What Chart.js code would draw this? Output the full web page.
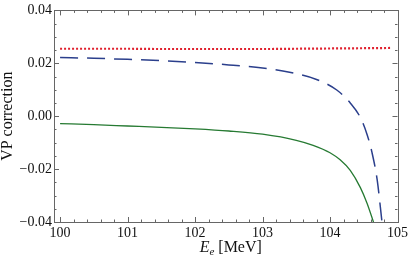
<!DOCTYPE html>
<html><head><meta charset="utf-8">
<script src="https://cdn.jsdelivr.net/npm/chart.js@4.4.0/dist/chart.umd.min.js"></script>
<style>html,body{margin:0;padding:0;background:#fff;}#wrap{width:411px;height:256px;}</style>
</head><body><div id="wrap"><canvas id="c" width="411" height="256"></canvas></div>
<script>
const xTicks = [100, 101, 102, 103, 104, 105];
const yTicks = [-0.04, -0.02, 0.00, 0.02, 0.04];
const xTitleMain = 'E';
const xTitleSub = 'e';
const xTitleUnit = ' [MeV]';
const yTitle = 'VP correction';

const redE   = [100, 100.5, 101, 101.5, 102, 102.5, 103, 103.5, 104, 104.5, 104.9];
const redV   = [0.0255, 0.0255, 0.0255, 0.0254, 0.0254, 0.0254, 0.0254, 0.0255, 0.0256, 0.0257, 0.0258];

const blueE  = [100, 100.5, 101, 101.5, 102, 102.5, 103, 103.4, 103.8, 104.1, 104.3, 104.45, 104.55, 104.62, 104.7, 104.77];
const blueV  = [0.0222, 0.0219, 0.0215, 0.0210, 0.0203, 0.0194, 0.0182, 0.0166, 0.0139, 0.0099, 0.0050, -0.0005, -0.0070, -0.0135, -0.0243, -0.0400];

const greenE = [100, 100.5, 101, 101.5, 102, 102.5, 103, 103.5, 103.75, 104, 104.15, 104.3, 104.45, 104.55, 104.65];
const greenV = [-0.0028, -0.0032, -0.0037, -0.0042, -0.0048, -0.0056, -0.0068, -0.0091, -0.0110, -0.0138, -0.0165, -0.0205, -0.0270, -0.0330, -0.0405];

const pts = (xs, ys) => xs.map((x, i) => ({x: x, y: ys[i]}));

const frameTicks = {
  id: 'frameTicks',
  afterDraw(chart) {
    const ctx = chart.ctx, a = chart.chartArea, sx = chart.scales.x, sy = chart.scales.y;
    ctx.save();
    ctx.strokeStyle = '#666';
    ctx.lineWidth = 1;
    ctx.strokeRect(Math.round(a.left) + 0.5, Math.round(a.top) + 0.5, Math.round(a.right - a.left), Math.round(a.bottom - a.top));
    ctx.beginPath();
    for (let v = 100; v <= 105.001; v += 0.2) {
      const major = Math.abs(v - Math.round(v)) < 1e-6;
      const L = major ? 5 : 2.5;
      const px = Math.round(sx.getPixelForValue(v)) + 0.5;
      ctx.moveTo(px, a.bottom); ctx.lineTo(px, a.bottom - L);
      ctx.moveTo(px, a.top); ctx.lineTo(px, a.top + L);
    }
    for (let k = -8; k <= 8; k++) {
      const v = k * 0.005;
      const major = (k % 4) === 0;
      const L = major ? 5 : 2.5;
      const py = Math.round(sy.getPixelForValue(v)) + 0.5;
      ctx.moveTo(a.left, py); ctx.lineTo(a.left + L, py);
      ctx.moveTo(a.right, py); ctx.lineTo(a.right - L, py);
    }
    ctx.stroke();
    // x-axis title with italic E and subscript e
    ctx.fillStyle = '#111';
    ctx.textBaseline = 'alphabetic';
    ctx.textAlign = 'left';
    const fMain = 'italic 16px "Liberation Serif"';
    const fSub = 'italic 11px "Liberation Serif"';
    const fUnit = '16px "Liberation Serif"';
    ctx.font = fMain; const w1 = ctx.measureText(xTitleMain).width;
    ctx.font = fSub; const w2 = ctx.measureText(xTitleSub).width;
    ctx.font = fUnit; const w3 = ctx.measureText(xTitleUnit).width;
    const cx = (a.left + a.right) / 2 + 5;
    let x0 = cx - (w1 + w2 + w3) / 2;
    const base = 252;
    ctx.font = fMain; ctx.fillText(xTitleMain, x0, base); x0 += w1;
    ctx.font = fSub; ctx.fillText(xTitleSub, x0, base + 3); x0 += w2;
    ctx.font = fUnit; ctx.fillText(xTitleUnit, x0, base);
    ctx.restore();
  }
};

new Chart(document.getElementById('c'), {
  type: 'line',
  data: {
    datasets: [
      {data: pts(redE, redV), borderColor: '#e0202e', borderWidth: 2.2, borderDash: [2, 2], pointRadius: 0, cubicInterpolationMode: 'monotone', fill: false},
      {data: pts(blueE, blueV), borderColor: '#2b3f8c', borderWidth: 1.5, borderDash: [18, 9], pointRadius: 0, cubicInterpolationMode: 'monotone', fill: false},
      {data: pts(greenE, greenV), borderColor: '#267a32', borderWidth: 1.3, pointRadius: 0, cubicInterpolationMode: 'monotone', fill: false}
    ]
  },
  options: {
    responsive: false,
    animation: false,
    events: [],
    layout: {padding: {top: 7, right: 11, left: 0, bottom: 0}},
    plugins: {legend: {display: false}, tooltip: {enabled: false}},
    scales: {
      x: {
        type: 'linear', min: 99.91, max: 105,
        afterBuildTicks: s => { s.ticks = xTicks.map(v => ({value: v})); },
        afterFit: s => { s.height = 34; },
        grid: {display: false, drawTicks: false},
        border: {display: false},
        ticks: {padding: 3, color: '#111', font: {family: 'Liberation Serif', size: 14}, maxRotation: 0, callback: v => String(v)},
        title: {display: false}
      },
      y: {
        type: 'linear', min: -0.04, max: 0.04,
        afterBuildTicks: s => { s.ticks = yTicks.map(v => ({value: v})); },
        afterFit: s => { s.width = 54; },
        grid: {display: false, drawTicks: false},
        border: {display: false},
        ticks: {padding: 2, color: '#111', font: {family: 'Liberation Serif', size: 14}, callback: v => (v < 0 ? '\u2212' : '') + Math.abs(v).toFixed(2)},
        title: {display: true, text: yTitle, color: '#111', font: {family: 'Liberation Serif', size: 16, lineHeight: 1.0}, padding: 0}
      }
    }
  },
  plugins: [frameTicks]
});
</script>
</body></html>
